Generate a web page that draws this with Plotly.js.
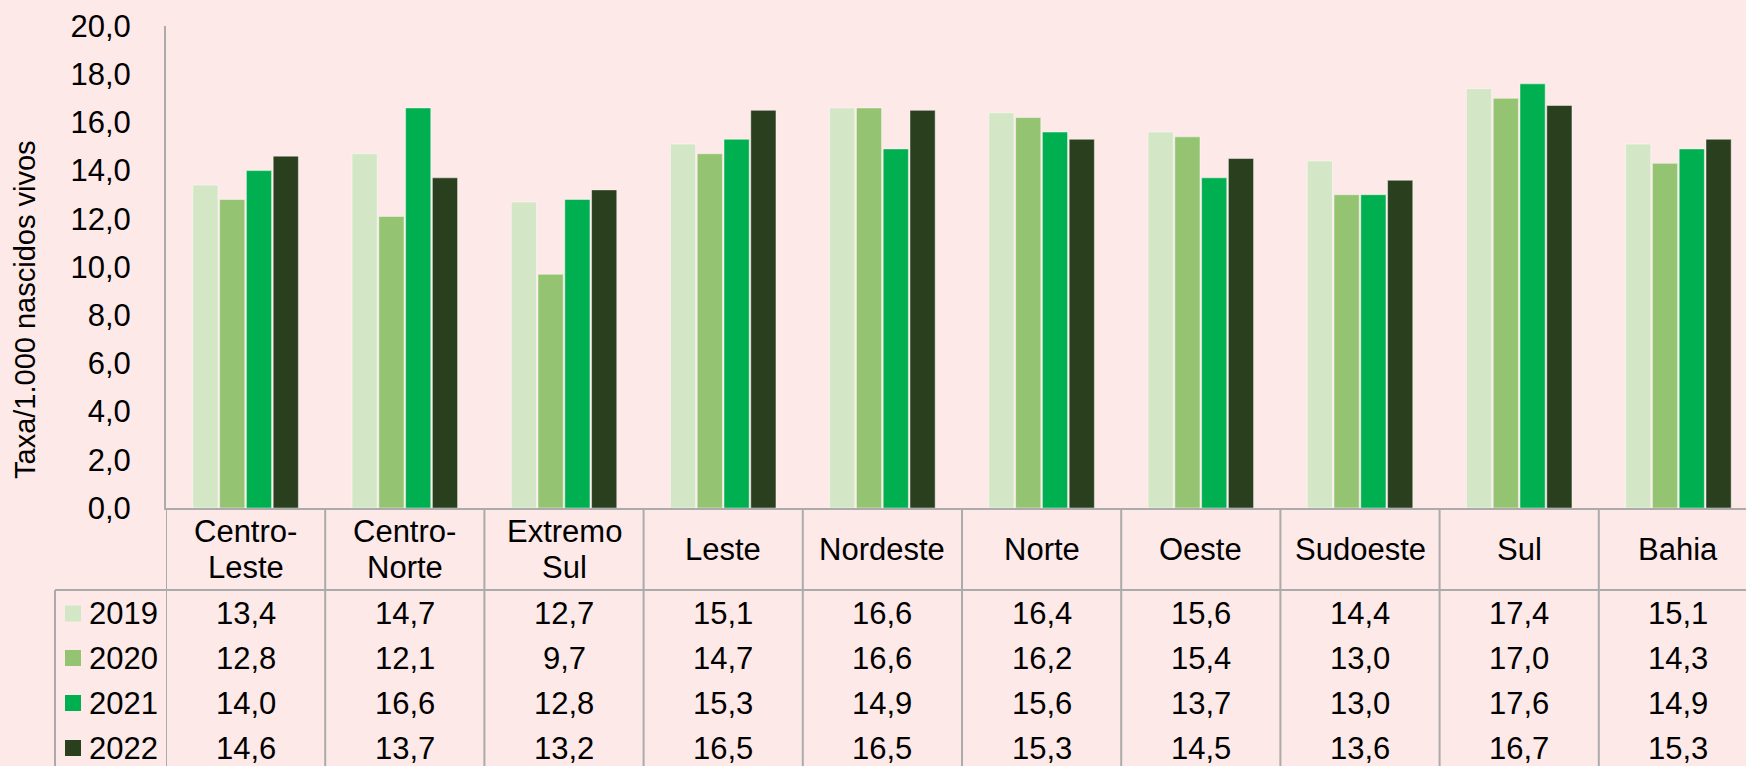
<!DOCTYPE html>
<html>
<head>
<meta charset="utf-8">
<script src="https://cdn.plot.ly/plotly-3.0.1.min.js"></script>
<style>html,body{margin:0;padding:0;background:#FDE9E7;}</style>
</head>
<body>
<div id="chart" style="width:1746px;height:766px;"></div>
<script>
// ---- data ----
const categories = ['Centro-Leste','Centro-Norte','Extremo Sul','Leste','Nordeste','Norte','Oeste','Sudoeste','Sul','Bahia'];
const years = ['2019','2020','2021','2022'];
const v2019 = [13.4,14.7,12.7,15.1,16.6,16.4,15.6,14.4,17.4,15.1];
const v2020 = [12.8,12.1,9.7,14.7,16.6,16.2,15.4,13.0,17.0,14.3];
const v2021 = [14.0,16.6,12.8,15.3,14.9,15.6,13.7,13.0,17.6,14.9];
const v2022 = [14.6,13.7,13.2,16.5,16.5,15.3,14.5,13.6,16.7,15.3];
const seriesValues = [v2019, v2020, v2021, v2022];
const yTitle = 'Taxa/1.000 nascidos vivos';

// ---- styles ----
const colors = ['#D3E7C6','#94C472','#00B050','#293F1D'];
const bg = '#FDE9E7';
const lineCol = '#ABABAB';
const FONT = 'Liberation Sans, Arial, sans-serif';
const W = 1746, H = 766, ML = 166, MT = 26;
const plotW = W - ML, plotH = H - MT;
const yZeroPx = 508;
const colW = 159.2;
const py = p => (H - p) / plotH;          // pixel y -> paper y
const px = p => (p - ML) / plotW;         // pixel x -> paper x
const fmt = v => v.toFixed(1).replace('.', ',');

const traces = seriesValues.map((vals, s) => ({
  type: 'bar',
  name: years[s],
  x: categories,
  y: vals,
  marker: {color: colors[s], line: {color: 'rgba(255,255,255,0.45)', width: 1}},
  hoverinfo: 'x+y+name',
  showlegend: false
}));

const annotations = [];
const shapes = [];

// category header labels (split into two lines where the reference does)
categories.forEach((c, i) => {
  let lines;
  if (c.includes('-')) { const k = c.indexOf('-'); lines = [c.slice(0, k + 1), c.slice(k + 1)]; }
  else if (c.includes(' ')) { lines = c.split(' '); }
  else lines = [c];
  const center = 549.5;
  const step = 36;
  lines.forEach((ln, j) => {
    const yc = center + (j - (lines.length - 1) / 2) * step;
    annotations.push({xref: 'x', yref: 'paper', x: c, y: py(yc), text: ln, showarrow: false,
      xanchor: 'center', yanchor: 'middle', font: {family: FONT, size: 31, color: '#000'}});
  });
});

// data table rows
const rowCenters = [613.5, 658, 703, 748];
seriesValues.forEach((vals, s) => {
  vals.forEach((v, i) => {
    annotations.push({xref: 'x', yref: 'paper', x: categories[i], y: py(rowCenters[s]), text: fmt(v),
      showarrow: false, xanchor: 'center', yanchor: 'middle', font: {family: FONT, size: 31, color: '#000'}});
  });
  // legend key + year
  shapes.push({type: 'rect', xref: 'paper', yref: 'paper', x0: px(65), x1: px(81),
    y0: py(rowCenters[s] + 8), y1: py(rowCenters[s] - 8), fillcolor: colors[s], line: {width: 0}});
  annotations.push({xref: 'paper', yref: 'paper', x: px(87), y: py(rowCenters[s]), text: years[s],
    showarrow: false, xanchor: 'left', yanchor: 'middle', font: {family: FONT, size: 31, color: '#000'}});
});

// y axis title
annotations.push({xref: 'paper', yref: 'paper', x: px(25), y: py(310), text: yTitle, textangle: -90,
  showarrow: false, xanchor: 'center', yanchor: 'middle', font: {family: FONT, size: 29, color: '#000'}});

// table grid lines
for (let i = 0; i <= categories.length; i++) {
  shapes.push({type: 'line', xref: 'x', yref: 'paper', x0: i - 0.5, x1: i - 0.5, y0: 0, y1: py(yZeroPx),
    line: {color: lineCol, width: 2}});
}
shapes.push({type: 'line', xref: 'paper', yref: 'paper', x0: px(55), x1: 1, y0: py(590), y1: py(590),
  line: {color: lineCol, width: 2}});
shapes.push({type: 'line', xref: 'paper', yref: 'paper', x0: px(55), x1: px(55), y0: 0, y1: py(590),
  line: {color: lineCol, width: 2}});

const layout = {
  width: W, height: H,
  paper_bgcolor: bg, plot_bgcolor: bg,
  margin: {l: ML, r: 0, t: MT, b: 0, pad: 0},
  separators: ',.',
  barmode: 'group',
  bargap: 0.327,
  bargroupgap: 0.06,
  showlegend: false,
  font: {family: FONT, color: '#000'},
  xaxis: {
    type: 'category', range: [-0.5, -0.5 + plotW / colW],
    showticklabels: false, ticks: '', showgrid: false, zeroline: false,
    showline: true, linecolor: lineCol, linewidth: 2, automargin: false, fixedrange: true
  },
  yaxis: {
    domain: [py(yZeroPx), 1], range: [0, 20], dtick: 2, tick0: 0, tickformat: '.1f',
    showgrid: false, zeroline: false, showline: true, linecolor: lineCol, linewidth: 2,
    ticks: '', ticklabelstandoff: 27, tickfont: {family: FONT, size: 31, color: '#000'},
    automargin: false, fixedrange: true
  },
  annotations: annotations,
  shapes: shapes
};

Plotly.newPlot('chart', traces, layout, {displayModeBar: false, staticPlot: true});
</script>
</body>
</html>
